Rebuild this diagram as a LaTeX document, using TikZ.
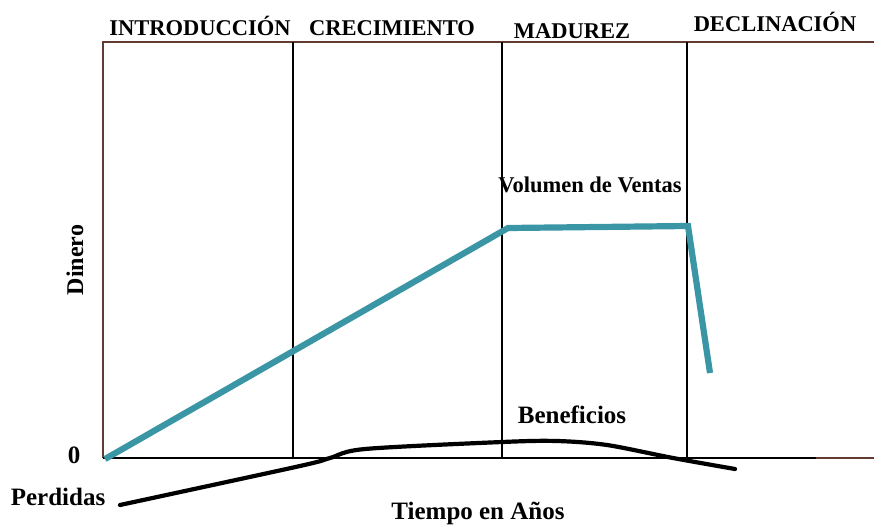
\documentclass[tikz,border=0pt]{standalone}
\usepackage{fontspec}
\setmainfont{Liberation Serif}
\usepackage{tikz}
\usetikzlibrary{positioning}
\tikzstyle{chart} = [x = 1pt, y = -1pt, every node/.style={transform shape}]
\definecolor{frameColor}{RGB}{98,60,50}
\definecolor{salesColor}{RGB}{58,149,164}
\newcommand{\labelFont}{\fontsize{22.5}{27}\selectfont\bfseries}
\newcommand{\axisFont}{\fontsize{25}{30}\selectfont\bfseries}
\tikzstyle{frameLine} = [color=frameColor, line width=1.6pt]
\tikzstyle{axisLine} = [color=black, line width=2pt]
\tikzstyle{stageLine} = [color=black, line width=1.2pt]
\tikzstyle{salesLine} = [color=salesColor, line width=6.2pt]
\tikzstyle{profitLine} = [color=black, line width=4.2pt, line cap=round]
\tikzstyle{labelText} = [font=\labelFont, inner sep=0pt, anchor=base]
\tikzstyle{axisText} = [font=\axisFont, inner sep=0pt, anchor=base]
\newcommand{\topY}{42}
\newcommand{\axisY}{458}
\newcommand{\stageDivider}[2]{
  \coordinate (#1Top) at (#2, \topY);
  \coordinate (#1Bottom) at (#2, \axisY);
  \draw [stageLine] (#1Top) -- (#1Bottom);
}
\newcommand{\stageLabel}[4]{\node [labelText] (#1) at (#2, #3) {#4};}
\newcommand{\axisLabel}[4]{\node [axisText] (#1) at (#2, #3) {#4};}
\begin{document}
\begin{tikzpicture}[chart]
    \useasboundingbox (0, 0) rectangle (874, 525);
    % frame
    \coordinate (origin) at (103, \axisY);
    \coordinate (frameTopLeft) at (103, \topY);
    \coordinate (frameTopRight) at (874, \topY);
    \coordinate (axisEnd) at (816, \axisY);
    \coordinate (axisRight) at (874, \axisY);
    \draw [frameLine] (origin) -- (frameTopLeft) -- (frameTopRight);
    \draw [frameLine] (axisEnd) -- (axisRight);
    \draw [axisLine] (origin) -- (axisEnd);
    \stageDivider{growth}{293}
    \stageDivider{maturity}{502}
    \stageDivider{decline}{687}
    % stages
    \stageLabel{introLabel}{200}{35}{INTRODUCCIÓN}
    \stageLabel{growthLabel}{392}{35}{CRECIMIENTO}
    \stageLabel{maturityLabel}{572}{38}{MADUREZ}
    \stageLabel{declineLabel}{775}{31}{DECLINACIÓN}
    % sales
    \coordinate (salesStart) at (105, 459);
    \coordinate (salesPeak) at (508, 228);
    \coordinate (salesHold) at (688, 226);
    \coordinate (salesEnd) at (710, 373);
    \draw [salesLine] (salesStart) -- (salesPeak) -- (salesHold) -- (salesEnd);
    \stageLabel{salesLabel}{590}{192}{Volumen de Ventas}
    % profit
    \foreach \name/\px/\py in {p0/120/505, p1/300/466, p2/330/458, p3/365/449, p4/502/442, p5/557/441, p6/607/445, p7/673/458, p8/735/469} {
      \coordinate (\name) at (\px, \py);
    }
    \draw [profitLine] plot [smooth, tension=0.5] coordinates {(p0) (p1) (p2) (p3) (p4) (p5) (p6) (p7) (p8)};
    \axisLabel{profitLabel}{572}{423}{Beneficios}
    \axisLabel{lossLabel}{58}{505}{Perdidas}
    % axes
    \axisLabel{zeroLabel}{74}{463}{0}
    \axisLabel{timeLabel}{478}{519}{Tiempo en Años}
    \node [axisText, font=\fontsize{24}{29}\selectfont\bfseries, anchor=center, rotate=90] (moneyLabel) at (75, 260) {Dinero};
\end{tikzpicture}
\end{document}
